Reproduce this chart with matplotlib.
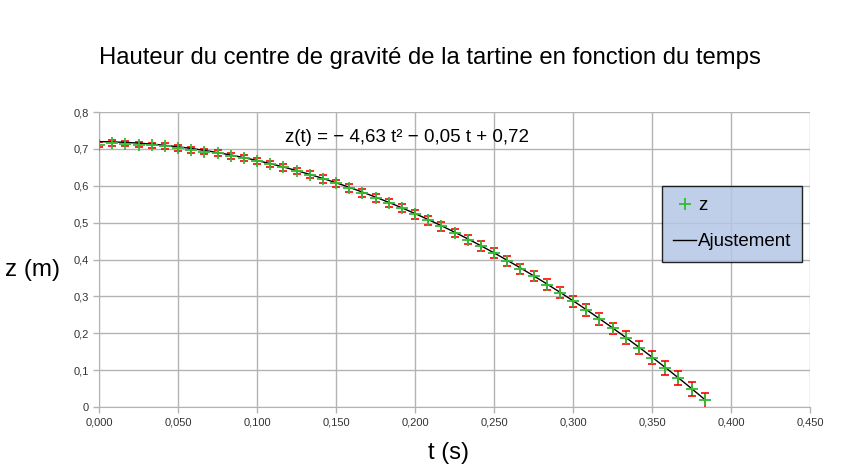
import matplotlib
matplotlib.use('Agg')
import matplotlib.pyplot as plt
from matplotlib.ticker import FuncFormatter, MultipleLocator
import numpy as np

plt.rcParams['font.family'] = ['Liberation Sans', 'DejaVu Sans']

# mesures : t en s (pas de 1/120 s), z en m, incertitude sur z
t = [i / 120 for i in range(47)]
z = [0.712, 0.716, 0.714, 0.712, 0.710, 0.708, 0.703, 0.698, 0.693, 0.688,
     0.682, 0.675, 0.667, 0.659, 0.650, 0.640, 0.630, 0.619, 0.607, 0.594,
     0.581, 0.567, 0.553, 0.539, 0.523, 0.506, 0.490, 0.472, 0.454, 0.436,
     0.417, 0.396, 0.375, 0.355, 0.332, 0.310, 0.287, 0.263, 0.238, 0.213,
     0.188, 0.161, 0.134, 0.106, 0.078, 0.048, 0.018]
dz = [0.007, 0.007, 0.007, 0.007, 0.007, 0.007, 0.008, 0.008, 0.008, 0.008,
      0.008, 0.009, 0.009, 0.009, 0.009, 0.009, 0.010, 0.010, 0.010, 0.010,
      0.011, 0.011, 0.011, 0.011, 0.012, 0.012, 0.012, 0.012, 0.013, 0.013,
      0.013, 0.014, 0.014, 0.014, 0.015, 0.015, 0.015, 0.016, 0.016, 0.016,
      0.017, 0.017, 0.018, 0.018, 0.019, 0.019, 0.020]

# coefficients de l'ajustement affiché (a t² + b t + c)
coef = [-4.63, -0.05, 0.72]

fig = plt.figure(figsize=(8.55, 4.73), dpi=100)
ax = fig.add_axes([0.1158, 0.1395, 0.8316, 0.6235])

tt = np.linspace(0, t[-1], 200)
fit_line, = ax.plot(tt, np.polyval(coef, tt), color='black', lw=1.0, zorder=3,
                    label='Ajustement')
ax.errorbar(t, z, yerr=dz, fmt='none', ecolor='#ff0000', elinewidth=1.2,
            capsize=3, capthick=1.2, zorder=2)
pts, = ax.plot(t, z, linestyle='none', marker='+', ms=9, mew=1.3, color='#33bb33',
               zorder=4, label='z')

ax.set_xlim(0, 0.45)
ax.set_ylim(0, 0.8)
ax.xaxis.set_major_locator(MultipleLocator(0.05))
ax.yaxis.set_major_locator(MultipleLocator(0.1))
ax.xaxis.set_major_formatter(FuncFormatter(lambda v, p: f'{v:.3f}'.replace('.', ',')))
ax.yaxis.set_major_formatter(FuncFormatter(
    lambda v, p: '0' if abs(v) < 1e-9 else f'{v:.1f}'.replace('.', ',')))

ax.grid(True, color='#b3b3b3', lw=1.0)
ax.set_axisbelow(True)
for s in ['top', 'right']:
    ax.spines[s].set_visible(False)
for s in ['left', 'bottom']:
    ax.spines[s].set_color('#b3b3b3')
ax.tick_params(colors='#b3b3b3', labelcolor='#333333', labelsize=8, length=4, width=1)

fig.text(0.503, 0.878, 'Hauteur du centre de gravité de la tartine en fonction du temps',
         ha='center', va='center', fontsize=17.2)
fig.text(0.038, 0.43, 'z (m)', ha='center', va='center', fontsize=17.5)
fig.text(0.525, 0.042, 't (s)', ha='center', va='center', fontsize=17)
ax.text(0.118, 0.73, 'z(t) = − 4,63 t² − 0,05 t + 0,72', fontsize=13.5,
        ha='left', va='center')

leg = ax.legend(handles=[pts, fit_line], loc='upper left',
                bbox_to_anchor=(0.792, 0.749), fontsize=13.5, frameon=True,
                fancybox=False, edgecolor='black', facecolor='#b4c7e7',
                framealpha=0.85, labelspacing=1.0, borderpad=0.6,
                handlelength=1.2, handletextpad=0.1, borderaxespad=0)
leg.get_frame().set_linewidth(1.0)

fig.savefig('out.png', dpi=100)
